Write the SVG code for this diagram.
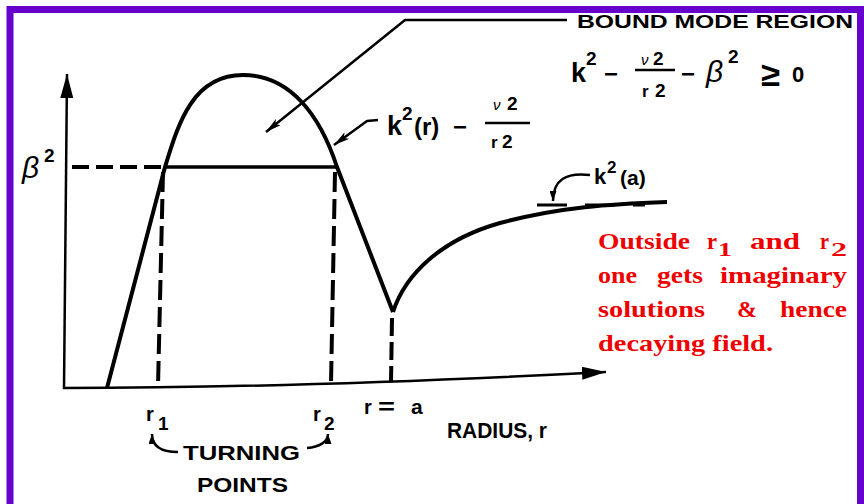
<svg xmlns="http://www.w3.org/2000/svg" width="864" height="504" viewBox="0 0 864 504">
<style>
.ln{fill:none;stroke:#000;stroke-linecap:butt;stroke-linejoin:round}
.ax{stroke-width:2.5}
.cv{stroke-width:4}
.ds{stroke-width:4}
.ld{stroke-width:2.5}
.sb{font-family:"Liberation Sans",Arial,sans-serif;font-weight:bold;fill:#000}
.it{font-family:"Liberation Sans",Arial,sans-serif;font-style:italic;fill:#000}
.rd{font-family:"Liberation Serif","Times New Roman",serif;font-weight:bold;fill:#ee0000}
</style>
<defs>
<marker id="ah" viewBox="0 0 16 8" refX="16" refY="4" markerWidth="16" markerHeight="8" markerUnits="userSpaceOnUse" orient="auto"><path d="M0,0 L16,4 L0,8 L4,4 z" fill="#000"/></marker>
<marker id="sah" viewBox="0 0 10 7" refX="10" refY="3.5" markerWidth="10" markerHeight="7" markerUnits="userSpaceOnUse" orient="auto"><path d="M0,0 L10,3.5 L0,7 z" fill="#000"/></marker>
<marker id="axh" viewBox="0 0 24 13" refX="24" refY="6.5" markerWidth="24" markerHeight="13" markerUnits="userSpaceOnUse" orient="auto"><path d="M0,0 L24,6.5 L0,13 z" fill="#000"/></marker>
</defs>
<rect width="864" height="504" fill="#fff"/>
<path d="M10,504 V9.5 H860.5 V504" fill="none" stroke="#6600cc" stroke-width="7"/>

<g id="axes">
<line class="ln ax" x1="64" y1="389" x2="67" y2="74" marker-end="url(#axh)"/>
<path class="ln ax" d="M63,388 Q300,388 606,372" marker-end="url(#axh)"/>
</g>

<g id="curve">
<path class="ln cv" d="M107,388 L165,167 C178,125 192,75 243,75 C290,75 320,115 337,167 L393,312"/>
<path class="ln cv" d="M393,312 C405,275 440,240 500,223 C560,207 610,204 667,202"/>
<line class="ln" stroke-width="3.5" x1="165" y1="167" x2="337" y2="167"/>
</g>

<g id="connectors">
<line class="ln ds" x1="72" y1="167" x2="163" y2="167" stroke-dasharray="17 7"/>
<line class="ln ds" x1="163" y1="172" x2="158" y2="386" stroke-dasharray="20 7"/>
<line class="ln ds" x1="335" y1="172" x2="331" y2="384" stroke-dasharray="20 7"/>
<line class="ln ds" x1="392" y1="318" x2="391" y2="382" stroke-dasharray="18 6"/>
<line class="ln" stroke-width="3" x1="537" y1="205" x2="645" y2="205" stroke-dasharray="30 18"/>
<path class="ln ld" d="M567,20 L405,20 L266,132" marker-end="url(#ah)"/>
<path class="ln ld" d="M378,120 L367,121 L334,145" marker-end="url(#ah)"/>
<path class="ln ld" d="M590,175 C566,172 553,180 553,201" marker-end="url(#sah)"/>
<path class="ln ld" d="M178,452 C163,452 152,447 152,434" marker-end="url(#sah)"/>
<path class="ln ld" d="M307,448 C319,447 328,442 328,434" marker-end="url(#sah)"/>
</g>

<g id="bound-mode">
<text class="sb" x="577" y="28" font-size="18" textLength="276" lengthAdjust="spacingAndGlyphs">BOUND MODE REGION</text>
<text class="sb" x="571" y="82" font-size="27">k</text>
<text class="sb" x="586" y="65" font-size="19">2</text>
<text class="sb" x="604" y="82" font-size="24">−</text>
<text class="it" x="641" y="65" font-size="15">ν</text>
<text class="sb" x="653" y="65" font-size="19">2</text>
<line x1="635" y1="70" x2="675" y2="70" stroke="#000" stroke-width="2.5"/>
<text class="sb" x="642" y="97" font-size="17">r</text>
<text class="sb" x="655" y="97" font-size="19">2</text>
<text class="sb" x="681" y="82" font-size="24">−</text>
<text class="it" x="706" y="82" font-size="30">β</text>
<text class="sb" x="728" y="63" font-size="19">2</text>
<text class="sb" x="761" y="86" font-size="34" textLength="19" lengthAdjust="spacingAndGlyphs">≥</text>
<text class="sb" x="792" y="82" font-size="22">0</text>
</g>

<g id="k2r-label">
<text class="sb" x="387" y="135" font-size="27">k</text>
<text class="sb" x="402" y="120" font-size="19">2</text>
<text class="sb" x="414" y="135" font-size="24">(r)</text>
<text class="sb" x="453" y="135" font-size="24">−</text>
<text class="it" x="493" y="110" font-size="15">ν</text>
<text class="sb" x="507" y="110" font-size="19">2</text>
<line x1="485" y1="123" x2="530" y2="123" stroke="#000" stroke-width="2.5"/>
<text class="sb" x="491" y="148" font-size="17">r</text>
<text class="sb" x="502" y="148" font-size="19">2</text>
</g>

<g id="k2a-label">
<text class="sb" x="594" y="184" font-size="22">k</text>
<text class="sb" x="607" y="173" font-size="17">2</text>
<text class="sb" x="620" y="185" font-size="21">(a)</text>
</g>

<g id="beta-label">
<text class="it" x="22" y="178" font-size="30">β</text>
<text class="sb" x="44" y="162" font-size="19">2</text>
</g>

<g id="radius-labels">
<text class="sb" x="146" y="421" font-size="20">r</text>
<text class="sb" x="158" y="430" font-size="19">1</text>
<text class="sb" x="313" y="421" font-size="20">r</text>
<text class="sb" x="324" y="430" font-size="19">2</text>
<text class="sb" x="364" y="414" font-size="20">r</text>
<text class="sb" x="378" y="414" font-size="22" textLength="17" lengthAdjust="spacingAndGlyphs">=</text>
<text class="sb" x="411" y="414" font-size="21">a</text>
<text class="sb" x="447" y="438" font-size="22" textLength="100" lengthAdjust="spacingAndGlyphs">RADIUS, r</text>
</g>

<g id="turning-points">
<text class="sb" x="183" y="460" font-size="21" textLength="117" lengthAdjust="spacingAndGlyphs">TURNING</text>
<text class="sb" x="197" y="492" font-size="21" textLength="91" lengthAdjust="spacingAndGlyphs">POINTS</text>
</g>

<g id="note" font-size="23">
<text class="rd" x="598" y="249" textLength="92" lengthAdjust="spacingAndGlyphs">Outside</text>
<text class="rd" x="707" y="249" textLength="10" lengthAdjust="spacingAndGlyphs">r</text>
<text class="rd" x="718" y="256" font-size="19" textLength="14" lengthAdjust="spacingAndGlyphs">1</text>
<text class="rd" x="750" y="249" textLength="50" lengthAdjust="spacingAndGlyphs">and</text>
<text class="rd" x="820" y="249" textLength="9" lengthAdjust="spacingAndGlyphs">r</text>
<text class="rd" x="831" y="256" font-size="19" textLength="16" lengthAdjust="spacingAndGlyphs">2</text>
<text class="rd" x="598" y="283" textLength="39" lengthAdjust="spacingAndGlyphs">one</text>
<text class="rd" x="657" y="283" textLength="46" lengthAdjust="spacingAndGlyphs">gets</text>
<text class="rd" x="720" y="283" textLength="127" lengthAdjust="spacingAndGlyphs">imaginary</text>
<text class="rd" x="598" y="317" textLength="107" lengthAdjust="spacingAndGlyphs">solutions</text>
<text class="rd" x="737" y="317" textLength="20" lengthAdjust="spacingAndGlyphs">&amp;</text>
<text class="rd" x="780" y="317" textLength="67" lengthAdjust="spacingAndGlyphs">hence</text>
<text class="rd" x="598" y="351" textLength="175" lengthAdjust="spacingAndGlyphs">decaying field.</text>
</g>
</svg>
